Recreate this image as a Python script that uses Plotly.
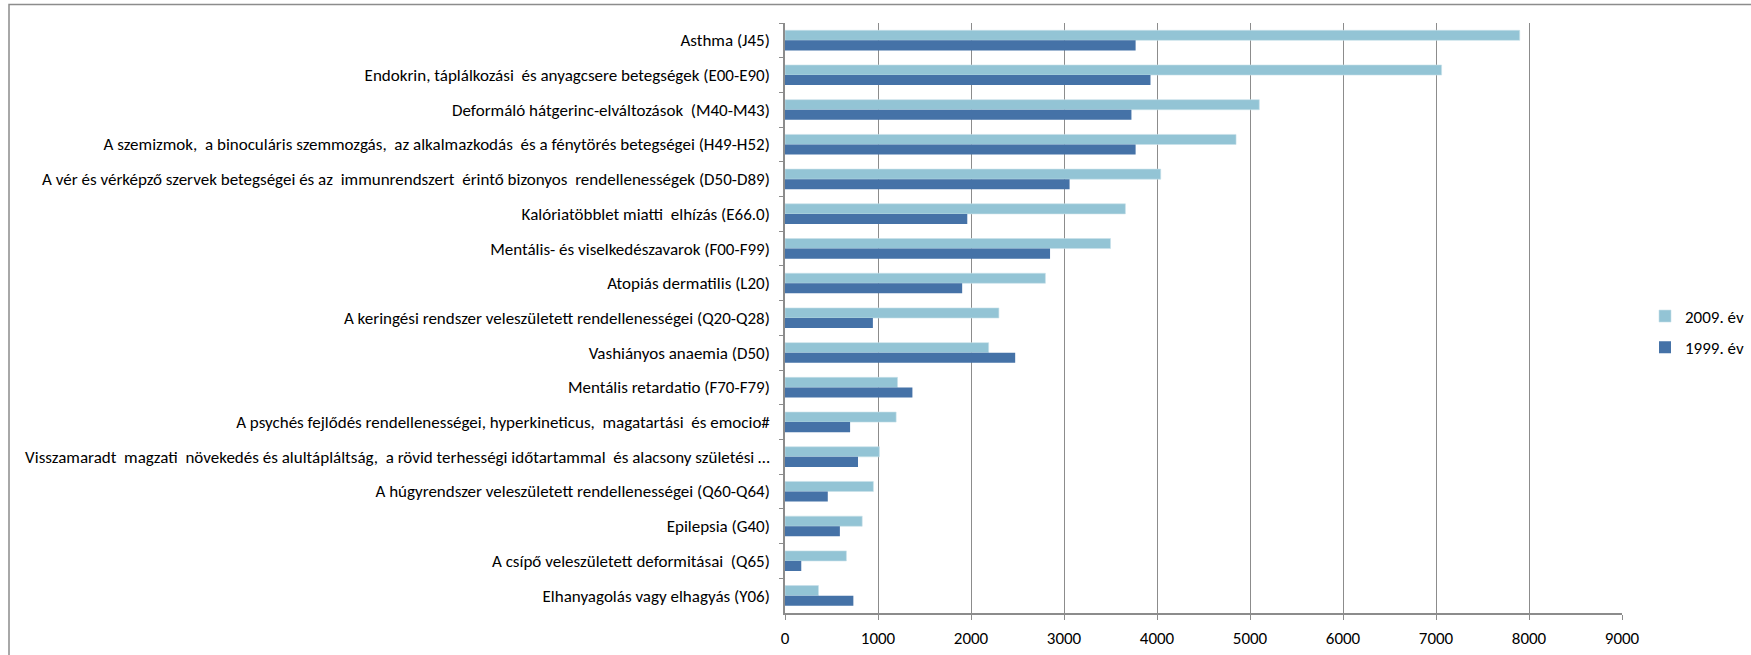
import plotly.graph_objects as go

# categories from top to bottom, as in the source chart
categories = [
    "Asthma (J45)",
    "Endokrin, táplálkozási  és anyagcsere betegségek (E00-E90)",
    "Deformáló hátgerinc-elváltozások  (M40-M43)",
    "A szemizmok,  a binoculáris szemmozgás,  az alkalmazkodás  és a fénytörés betegségei (H49-H52)",
    "A vér és vérképző szervek betegségei és az  immunrendszert  érintő bizonyos  rendellenességek (D50-D89)",
    "Kalóriatöbblet miatti  elhízás (E66.0)",
    "Mentális- és viselkedészavarok (F00-F99)",
    "Atopiás dermatilis (L20)",
    "A keringési rendszer veleszületett rendellenességei (Q20-Q28)",
    "Vashiányos anaemia (D50)",
    "Mentális retardatio (F70-F79)",
    "A psychés fejlődés rendellenességei, hyperkineticus,  magatartási  és emocio#",
    "Visszamaradt  magzati  növekedés és alultápláltság,  a rövid terhességi időtartammal  és alacsony születési …",
    "A húgyrendszer veleszületett rendellenességei (Q60-Q64)",
    "Epilepsia (G40)",
    "A csípő veleszületett deformitásai  (Q65)",
    "Elhanyagolás vagy elhagyás (Y06)",
]
values_2009 = [7900, 7060, 5100, 4850, 4040, 3660, 3500, 2800, 2300,
               2190, 1210, 1195, 1015, 950, 830, 660, 360]
values_1999 = [3770, 3930, 3725, 3770, 3060, 1960, 2850, 1905, 945,
               2475, 1370, 700, 785, 460, 590, 175, 735]

FONT = "Carlito, Lato, sans-serif"
W, H = 1751, 655
L, R, T, B = 785, 129, 23, 42

fig = go.Figure()
fig.add_trace(go.Bar(y=categories, x=values_2009, orientation="h", name="2009. év",
                     legendgroup="a",
                     marker=dict(color="#93C4D5", line=dict(color="#C8E1EA", width=0.6))))
fig.add_trace(go.Bar(y=categories, x=values_1999, orientation="h", name="1999. év",
                     legendgroup="b",
                     marker=dict(color="#4572A7", line=dict(color="#4572A7", width=0))))


def px_x(p):
    return (p - L) / (W - L - R)


def px_y(p):
    return (H - B - p) / (H - T - B)


# outer chart border (Excel chart area)
fig.add_shape(type="rect", xref="paper", yref="paper",
              x0=px_x(9), x1=px_x(W + 5), y0=px_y(H + 5), y1=px_y(4.5),
              line=dict(color="#8C8C8C", width=1.5), layer="below")

fig.update_layout(
    width=W, height=H,
    margin=dict(l=L, r=R, t=T, b=B, autoexpand=False),
    barmode="group", bargap=0.42, bargroupgap=0,
    plot_bgcolor="white", paper_bgcolor="white",
    font=dict(family=FONT, size=17, color="black"),
    showlegend=True,
    legend=dict(x=px_x(1645), xanchor="left", y=px_y(332), yanchor="middle",
                font=dict(size=17), itemwidth=30, tracegroupgap=6,
                traceorder="grouped", bgcolor="rgba(0,0,0,0)"),
)
fig.update_xaxes(range=[0, 9000], dtick=1000, tick0=0,
                 showgrid=True, gridcolor="#8C8C8C", gridwidth=1,
                 showline=True, linecolor="#8C8C8C", linewidth=2,
                 ticks="outside", ticklen=5, tickcolor="#8C8C8C",
                 zeroline=False, tickfont=dict(size=17), ticklabelstandoff=4)
fig.update_yaxes(autorange="reversed", showline=True, linecolor="#8C8C8C", linewidth=1.5,
                 ticks="outside", ticklen=4, tickcolor="#8C8C8C",
                 showgrid=False, tickson="boundaries", ticklabelstandoff=10,
                 tickfont=dict(size=17))

# the page's default body margin would shift the whole chart by 8px
fig.write_html("out.html", config={"displayModeBar": False},
               post_script="document.body.style.margin='0';")
